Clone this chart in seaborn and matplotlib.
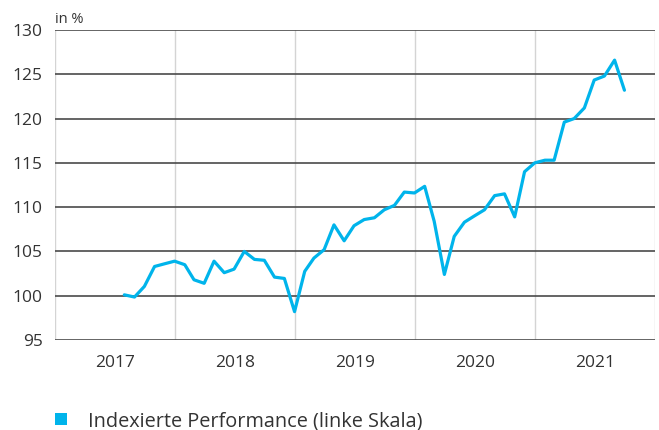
import numpy as np
import pandas as pd
import matplotlib
matplotlib.use("Agg")
import matplotlib.pyplot as plt
from matplotlib.patches import Patch
import seaborn as sns

start_month = "2017-07-31"
performance = [
    100.1, 99.85, 101.05, 103.3, 103.6, 103.9, 103.5, 101.8, 101.4, 103.9,
    102.6, 103.0, 105.0, 104.1, 104.0, 102.1, 101.95, 98.2, 102.75, 104.25,
    105.2, 108.0, 106.2, 107.9, 108.6, 108.8, 109.7, 110.2, 111.7, 111.6,
    112.35, 108.4, 102.4, 106.7, 108.3, 109.0, 109.7, 111.3, 111.5, 108.9,
    114.0, 115.0, 115.3, 115.3, 119.6, 120.0, 121.2, 124.35, 124.8, 126.6,
    123.2,
]
years = [2017, 2018, 2019, 2020, 2021]
y_ticks = [95, 100, 105, 110, 115, 120, 125, 130]
series_label = "Indexierte Performance (linke Skala)"
unit_label = "in %"

dates = pd.date_range(start_month, periods=len(performance), freq="ME")
df = pd.DataFrame({"date": dates, "value": performance})

sns.set_theme(style="white")
plt.rcParams["font.family"] = ["Open Sans", "DejaVu Sans"]

line_color = "#00B4EB"
text_color = "#333333"

fig = plt.figure(figsize=(6.59, 4.30), dpi=100)
ax = fig.add_axes([55 / 659, 1 - 340 / 430, 600 / 659, 310 / 430])

sns.lineplot(data=df, x="date", y="value", ax=ax, color=line_color,
             linewidth=2.3, legend=False)

x0 = pd.Timestamp(f"{years[0]}-01-01")
x1 = pd.Timestamp(f"{years[-1] + 1}-01-01")
ax.set_xlim(x0, x1)
ax.set_ylim(y_ticks[0], y_ticks[-1])

# horizontal gridlines
for yv in y_ticks:
    ax.axhline(yv, color="#4a4a4a", linewidth=1.2, zorder=1)
# vertical year separators
for yr in years + [years[-1] + 1]:
    ax.axvline(pd.Timestamp(f"{yr}-01-01"), color="#d4d4d4", linewidth=1.0, zorder=0)

for s in ax.spines.values():
    s.set_visible(False)

ax.set_yticks(y_ticks)
ax.set_yticklabels([str(v) for v in y_ticks], fontsize=12.5, color=text_color)
mids = [pd.Timestamp(f"{yr}-07-02") for yr in years]
ax.set_xticks(mids)
ax.set_xticklabels([str(y) for y in years], fontsize=12.5, color=text_color)
ax.tick_params(axis="both", length=0)
ax.tick_params(axis="y", pad=9)
ax.tick_params(axis="x", pad=11)
ax.set_xlabel("")
ax.set_ylabel("")
ax.grid(False)

ax.text(0.0, 1.01, unit_label, transform=ax.transAxes, fontsize=10.5,
        color=text_color, ha="left", va="bottom")

handle = Patch(facecolor=line_color, edgecolor="none")
fig.legend([handle], [series_label], loc="center left",
           bbox_to_anchor=(55 / 659, 1 - 421 / 430), frameon=False,
           borderpad=0, borderaxespad=0,
           fontsize=14.3, handlelength=0.62, handleheight=0.62,
           handletextpad=1.05, labelcolor=text_color)

fig.savefig("out.png", dpi=100)
